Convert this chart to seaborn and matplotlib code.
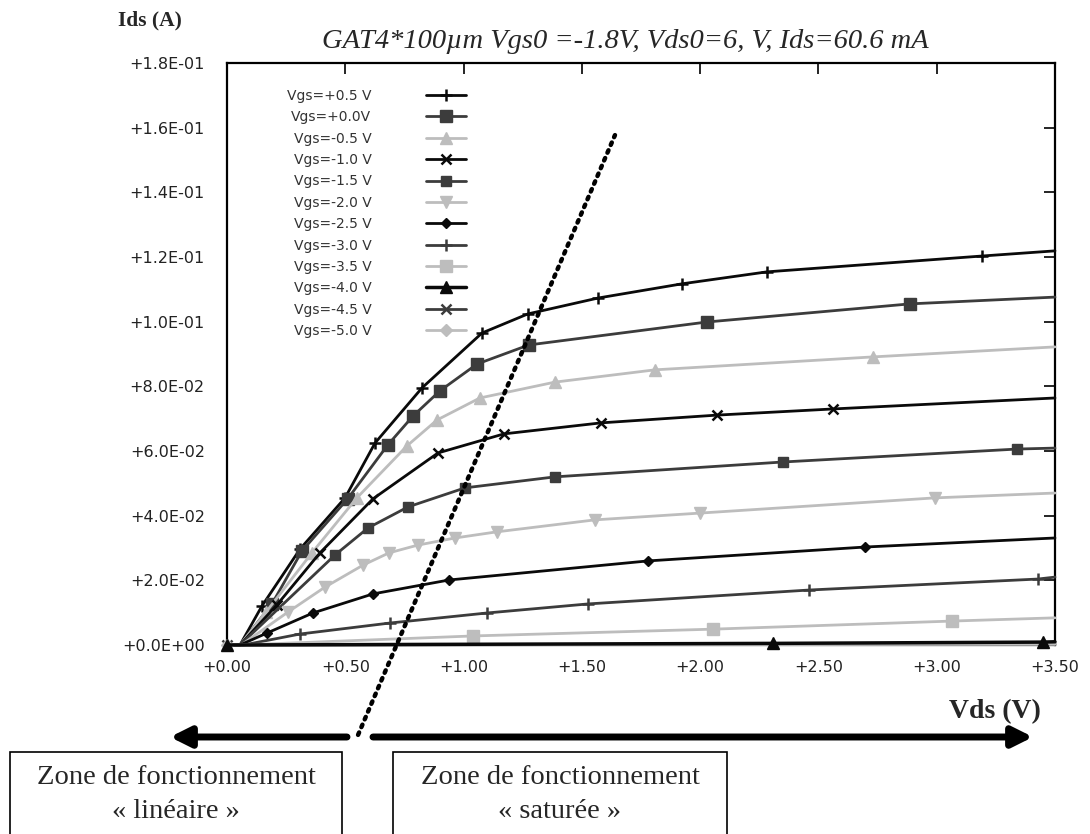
import numpy as np
import pandas as pd
import matplotlib
matplotlib.use("Agg")
import matplotlib.pyplot as plt
from matplotlib.patches import FancyArrowPatch, Rectangle
from matplotlib.ticker import FixedLocator, FuncFormatter
import seaborn as sns

# ---- measured Ids(Vds) characteristics, one series per gate voltage ----
vgs_labels = ["Vgs=+0.5 V", "Vgs=+0.0V", "Vgs=-0.5 V", "Vgs=-1.0 V", "Vgs=-1.5 V",
              "Vgs=-2.0 V", "Vgs=-2.5 V", "Vgs=-3.0 V", "Vgs=-3.5 V", "Vgs=-4.0 V",
              "Vgs=-4.5 V", "Vgs=-5.0 V"]

vds_p05 = [0, 0.055, 0.148, 0.309, 0.499, 0.626, 0.824, 1.078, 1.272, 1.568, 1.923, 2.282, 3.191, 3.5]
ids_p05 = [0, 0, 0.0121, 0.0297, 0.0455, 0.0625, 0.0795, 0.0965, 0.1024, 0.1073, 0.1117, 0.1154, 0.1203, 0.1219]

vds_p00 = [0, 0.055, 0.19, 0.317, 0.51, 0.680, 0.786, 0.900, 1.057, 1.276, 2.029, 2.887, 3.5]
ids_p00 = [0, 0, 0.0127, 0.0291, 0.0452, 0.0619, 0.0708, 0.0786, 0.0869, 0.0928, 0.0999, 0.1055, 0.1076]

vds_m05 = [0, 0.055, 0.165, 0.359, 0.549, 0.761, 0.888, 1.069, 1.386, 1.809, 2.730, 3.5]
ids_m05 = [0, 0, 0.0102, 0.0285, 0.0455, 0.0616, 0.0696, 0.0764, 0.0813, 0.0851, 0.0891, 0.0922]

vds_m10 = [0, 0.055, 0.211, 0.393, 0.617, 0.892, 1.171, 1.581, 2.071, 2.561, 3.5]
ids_m10 = [0, 0, 0.0124, 0.0285, 0.0452, 0.0594, 0.0653, 0.0687, 0.0711, 0.0730, 0.0764]

vds_m15 = [0, 0.055, 0.456, 0.596, 0.765, 1.006, 1.386, 2.350, 3.339, 3.5]
ids_m15 = [0, 0, 0.0278, 0.0362, 0.0427, 0.0486, 0.0520, 0.0566, 0.0606, 0.0609]

vds_m20 = [0, 0.06, 0.258, 0.414, 0.575, 0.685, 0.807, 0.964, 1.141, 1.555, 2.0, 2.992, 3.5]
ids_m20 = [0, 0, 0.0102, 0.0179, 0.0247, 0.0285, 0.0309, 0.0331, 0.0350, 0.0387, 0.0408, 0.0455, 0.0470]

vds_m25 = [0, 0.055, 0.169, 0.363, 0.617, 0.938, 1.779, 2.697, 3.5]
ids_m25 = [0, 0, 0.0037, 0.0099, 0.0158, 0.0201, 0.0260, 0.0303, 0.0331]

vds_m30 = [0, 0.07, 0.309, 0.689, 1.099, 1.526, 2.460, 3.428, 3.5]
ids_m30 = [0, 0, 0.0034, 0.0068, 0.0099, 0.0127, 0.0170, 0.0204, 0.0210]

vds_m35 = [0, 0.055, 1.040, 2.054, 3.064, 3.5]
ids_m35 = [0, 0, 0.0028, 0.0049, 0.0074, 0.0084]

vds_m40 = [0, 2.308, 3.449, 3.5]
ids_m40 = [0, 0.0005, 0.0009, 0.0010]

vds_m45 = [0, 3.5]
ids_m45 = [0, 0.0003]

vds_m50 = [0, 3.5]
ids_m50 = [0, 0.0002]

vds_sets = [vds_p05, vds_p00, vds_m05, vds_m10, vds_m15, vds_m20,
            vds_m25, vds_m30, vds_m35, vds_m40, vds_m45, vds_m50]
ids_sets = [ids_p05, ids_p00, ids_m05, ids_m10, ids_m15, ids_m20,
            ids_m25, ids_m30, ids_m35, ids_m40, ids_m45, ids_m50]

# boundary between linear and saturated regions (dotted line end points)
bound_vds = [0.554, 1.640]
bound_ids = [-0.0278, 0.1577]

x_ticks = [0.0, 0.5, 1.0, 1.5, 2.0, 2.5, 3.0, 3.5]
y_ticks = [0.0, 0.02, 0.04, 0.06, 0.08, 0.10, 0.12, 0.14, 0.16, 0.18]

title_text = "GAT4*100\u00b5m Vgs0 =-1.8V, Vds0=6, V, Ids=60.6 mA"

# ---- styles ----
BLACK, DARK, LIGHT = "#0a0a0a", "#3c3c3c", "#bdbdbd"
styles = [
    dict(color=BLACK, marker="+", ms=9, mew=1.8, lw=2.0),
    dict(color=DARK, marker="s", ms=9, mew=1.0, lw=2.0),
    dict(color=LIGHT, marker="^", ms=9, mew=1.0, lw=2.0),
    dict(color=BLACK, marker="x", ms=7, mew=1.8, lw=2.0),
    dict(color=DARK, marker="s", ms=7, mew=1.0, lw=2.0),
    dict(color=LIGHT, marker="v", ms=9, mew=1.0, lw=2.0),
    dict(color=BLACK, marker="D", ms=5, mew=1.0, lw=2.0),
    dict(color=DARK, marker="+", ms=8, mew=1.8, lw=2.0),
    dict(color=LIGHT, marker="s", ms=8, mew=1.0, lw=2.0),
    dict(color=BLACK, marker="^", ms=9, mew=1.0, lw=2.5),
    dict(color=DARK, marker="x", ms=7, mew=1.8, lw=2.0),
    dict(color=LIGHT, marker="D", ms=6, mew=1.0, lw=2.0),
]

sns.set_theme(style="white")
plt.rcParams["font.family"] = ["DejaVu Sans"]

fig = plt.figure(figsize=(10.9, 8.34), dpi=100)
ax = fig.add_axes([227 / 1090, 1 - 645 / 834, (1055 - 227) / 1090, (645 - 63) / 834])

for i, (lab, xs, ys, st) in enumerate(zip(vgs_labels, vds_sets, ids_sets, styles)):
    df = pd.DataFrame({"Vds": xs, "Ids": ys})
    n = len(xs)
    if lab == "Vgs=-4.0 V":
        mev = list(range(n - 1))
    elif n > 3:
        mev = list(range(2, n - 1))
    else:
        mev = [0]
    sns.lineplot(data=df, x="Vds", y="Ids", ax=ax, sort=False, estimator=None,
                 color=st["color"], marker=st["marker"], markersize=st["ms"],
                 markeredgewidth=st["mew"], markeredgecolor=st["color"],
                 linewidth=st["lw"], markevery=mev, label=lab, clip_on=False,
                 zorder=3 + (i == 9))

ax.plot(bound_vds, bound_ids, color="black", linestyle=(0, (0.6, 1.3)), lw=3.2,
        clip_on=False, zorder=5, solid_capstyle="round", dash_capstyle="round")

ax.set_xlim(0, 3.5)
ax.set_ylim(0, 0.18)
ax.xaxis.set_major_locator(FixedLocator(x_ticks))
ax.yaxis.set_major_locator(FixedLocator(y_ticks))
ax.xaxis.set_major_formatter(FuncFormatter(lambda v, p: f"{v:+.2f}"))
ax.yaxis.set_major_formatter(FuncFormatter(lambda v, p: f"{v:+.1E}"))
ax.tick_params(direction="in", top=True, right=True, length=8, width=1.2,
               labelsize=11.5, colors="black", labelcolor="#222222")
ax.tick_params(axis="y", pad=16)
ax.tick_params(axis="x", pad=11)
ax.set_xlabel("")
ax.set_ylabel("")
for sp in ax.spines.values():
    sp.set_color("black")
    sp.set_linewidth(1.6)

leg = ax.legend(loc="upper left", bbox_to_anchor=(287 / 1090, 1 - 89 / 834),
                bbox_transform=fig.transFigure, markerfirst=False, frameon=False,
                fontsize=10, handlelength=2.9, handletextpad=3.9, labelspacing=0.53,
                borderpad=0, borderaxespad=0, numpoints=1)
for t in leg.get_texts():
    t.set_color("#333333")

serif = ["Liberation Serif", "DejaVu Serif"]
fig.text(150 / 1090, 1 - 20 / 834, "Ids (A)", family=serif, weight="bold",
         fontsize=15.5, ha="center", va="center")
fig.text(625 / 1090, 1 - 42 / 834, title_text, family=serif, style="italic",
         fontsize=20.5, ha="center", va="center")
fig.text(995 / 1090, 1 - 712 / 834, "Vds (V)", family=serif, weight="bold",
         fontsize=20, ha="center", va="center")

# region arrows below the axis
for x0, x1 in [(347, 170), (373, 1033)]:
    fig.add_artist(FancyArrowPatch((x0 / 1090, 1 - 737 / 834), (x1 / 1090, 1 - 737 / 834),
                                   transform=fig.transFigure,
                                   arrowstyle="-|>,head_length=1.0,head_width=0.5",
                                   mutation_scale=12, lw=5, color="black",
                                   shrinkA=0, shrinkB=0))

# region captions in boxes
for bx0, bx1, word in [(10, 342, "\u00ab lin\u00e9aire \u00bb"), (393, 727, "\u00ab satur\u00e9e \u00bb")]:
    fig.add_artist(Rectangle((bx0 / 1090, -0.02), (bx1 - bx0) / 1090, 0.02 + 1 - 752 / 834,
                             transform=fig.transFigure, fill=False, lw=1.2,
                             edgecolor="black"))
    cx = (bx0 + bx1) / 2 / 1090
    fig.text(cx, 1 - 777 / 834, "Zone de fonctionnement", family=serif,
             fontsize=20.5, ha="center", va="center")
    fig.text(cx, 1 - 811 / 834, word, family=serif, fontsize=20.5,
             ha="center", va="center")

fig.savefig("out.png", dpi=100, facecolor="white")
